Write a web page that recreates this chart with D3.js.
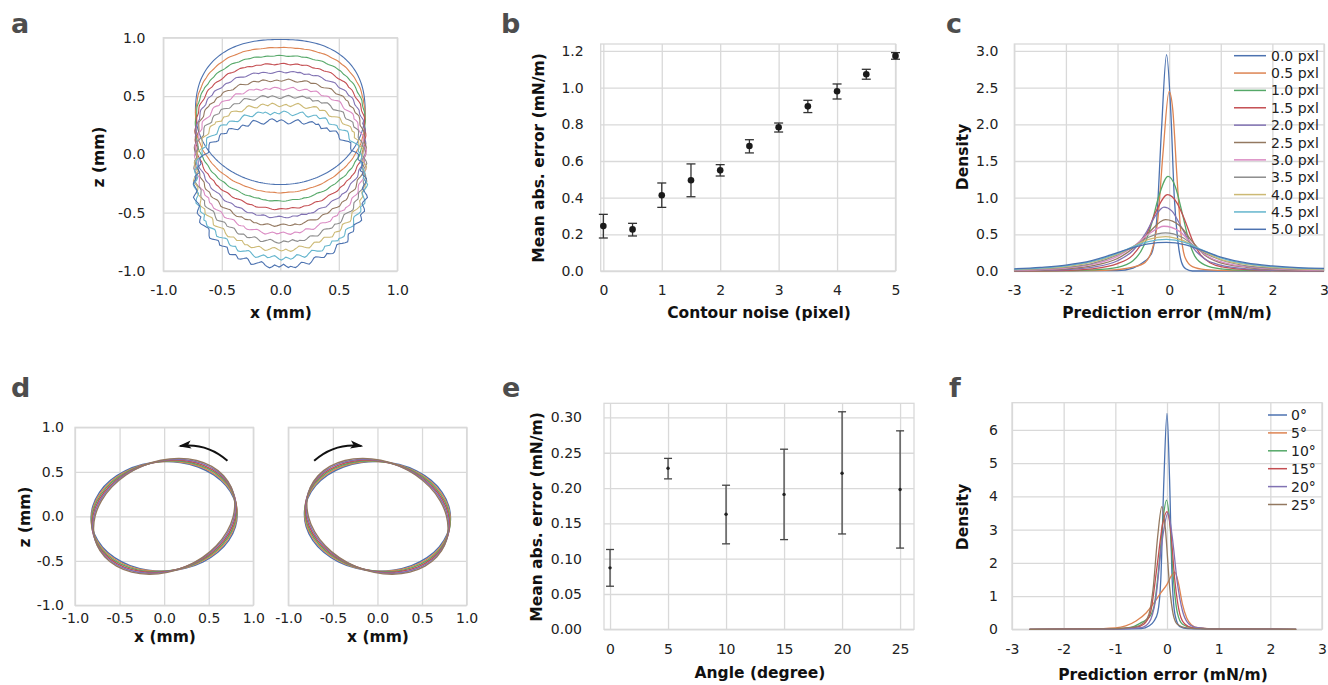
<!DOCTYPE html>
<html>
<head>
<meta charset="utf-8">
<script src="https://cdn.jsdelivr.net/npm/d3@7"></script>
<style>
  body { margin: 0; background: #fff; }
  text { font-family: "DejaVu Sans", Verdana, sans-serif; }
</style>
</head>
<body>
<svg id="fig" width="1328" height="685"></svg>
<script>
// ---------- data ----------
const noiseLevels = [0, 0.5, 1, 1.5, 2, 2.5, 3, 3.5, 4, 4.5, 5];

// panel a: drop contour (relative to its centre) and centre heights per noise level
const contourA = [[0.725,0],[0.704,0.202],[0.643,0.349],[0.543,0.466],[0.407,0.552],[0.235,0.604],[0,0.622],
  [-0.235,0.604],[-0.407,0.552],[-0.543,0.466],[-0.643,0.349],[-0.704,0.202],[-0.725,0],
  [-0.700,-0.161],[-0.628,-0.311],[-0.513,-0.440],[-0.363,-0.539],[-0.188,-0.601],[0,-0.622],
  [0.188,-0.601],[0.363,-0.539],[0.513,-0.440],[0.628,-0.311],[0.700,-0.161]];
const centersA = [0.363, 0.293, 0.223, 0.153, 0.083, 0.013, -0.057, -0.127, -0.197, -0.267, -0.337];
// hand-read wiggle pattern of the noisy contours
const jitter = [0.2,0.6,0.9,0.5,-0.1,-0.6,-0.3,0.3,0.8,0.4,-0.2,-0.8,-1.0,-0.5,0.1,0.5,0.2,-0.3,0.4,0.9,
  0.7,0.1,-0.4,-0.9,-0.6,0.0,0.6,1.0,0.5,-0.2,-0.7,-0.4,0.2,-0.1,-0.6,-0.9,-0.3,0.4,0.8,0.3,-0.3,0.1,
  0.7,0.4,-0.2,-0.8,-0.5,0.2,0.9,0.6,0.0,-0.5,-1.0,-0.6,0.1,0.5,0.8,0.3,-0.4,-0.1,0.3,-0.2,-0.7,0.0,0.6];

// panel b
const maeB = [0.245, 0.227, 0.413, 0.495, 0.549, 0.682, 0.784, 0.898, 0.980, 1.073, 1.173];
const hiB  = [0.309, 0.260, 0.480, 0.584, 0.580, 0.716, 0.807, 0.931, 1.020, 1.100, 1.191];
const loB  = [0.180, 0.191, 0.347, 0.405, 0.518, 0.644, 0.758, 0.864, 0.938, 1.046, 1.155];

// panel c: density curves per noise level
const c00 = [[-3,0],[-1,0.005],[-0.7,0.04],[-0.5,0.12],[-0.4,0.18],[-0.32,0.28],[-0.24,0.7],[-0.15,1.9],[-0.05,2.95],[0.03,2.2],[0.1,1.0],[0.17,0.4],[0.24,0.12],[0.32,0.03],[0.45,0],[3,0]];
const c05 = [[-3,0],[-1.5,0.005],[-1,0.02],[-0.8,0.04],[-0.5,0.1],[-0.35,0.25],[-0.22,0.7],[-0.12,1.6],[0,2.45],[0.07,2.2],[0.15,1.3],[0.23,0.5],[0.31,0.18],[0.45,0.06],[0.7,0.02],[1.2,0.005],[3,0]];
const c10 = [[-3,0.002],[-2,0.005],[-1.5,0.015],[-1,0.05],[-0.7,0.14],[-0.5,0.33],[-0.35,0.62],[-0.2,1.02],[-0.02,1.29],[0.12,1.15],[0.25,0.8],[0.38,0.42],[0.5,0.2],[0.7,0.08],[1,0.03],[1.5,0.01],[3,0.001]];
const c15 = [[-3,0.003],[-2,0.01],[-1.5,0.03],[-1,0.1],[-0.7,0.22],[-0.45,0.48],[-0.25,0.82],[-0.03,1.04],[0.15,0.93],[0.3,0.7],[0.45,0.42],[0.6,0.23],[0.8,0.11],[1,0.06],[1.5,0.02],[2,0.008],[3,0.002]];
const c20 = [[-3,0.005],[-2.5,0.01],[-2,0.02],[-1.5,0.05],[-1,0.14],[-0.7,0.28],[-0.45,0.52],[-0.25,0.77],[-0.1,0.87],[0.05,0.82],[0.25,0.58],[0.45,0.33],[0.7,0.16],[1,0.08],[1.5,0.03],[2,0.01],[3,0.003]];
const c25 = [[-3,0.008],[-2.5,0.015],[-2,0.03],[-1.5,0.07],[-1,0.17],[-0.7,0.31],[-0.4,0.52],[-0.07,0.70],[0.2,0.62],[0.45,0.4],[0.7,0.21],[1,0.11],[1.5,0.05],[2,0.02],[2.5,0.01],[3,0.005]];
const c30 = [[-3,0.01],[-2.5,0.02],[-2,0.04],[-1.5,0.09],[-1,0.2],[-0.7,0.33],[-0.4,0.5],[-0.1,0.61],[0.2,0.54],[0.5,0.33],[0.8,0.18],[1.2,0.09],[1.5,0.06],[2,0.03],[2.5,0.015],[3,0.01]];
const c35 = [[-3,0.015],[-2.5,0.03],[-2,0.05],[-1.5,0.1],[-1,0.22],[-0.7,0.33],[-0.4,0.46],[-0.07,0.52],[0.25,0.46],[0.6,0.28],[1,0.15],[1.5,0.07],[2,0.04],[2.5,0.025],[3,0.015]];
const c40 = [[-3,0.02],[-2.5,0.035],[-2,0.06],[-1.5,0.12],[-1,0.23],[-0.7,0.33],[-0.4,0.43],[-0.07,0.47],[0.25,0.42],[0.6,0.29],[1,0.16],[1.5,0.09],[2,0.05],[2.5,0.03],[3,0.02]];
const c45 = [[-3,0.025],[-2.5,0.04],[-2,0.07],[-1.5,0.13],[-1,0.24],[-0.7,0.33],[-0.4,0.4],[-0.05,0.43],[0.3,0.39],[0.6,0.3],[1,0.18],[1.5,0.1],[2,0.06],[2.5,0.04],[3,0.03]];
const c50 = [[-3,0.03],[-2.5,0.05],[-2,0.08],[-1.5,0.14],[-1,0.25],[-0.7,0.32],[-0.4,0.37],[-0.05,0.39],[0.3,0.36],[0.6,0.29],[1,0.19],[1.5,0.11],[2,0.07],[2.5,0.045],[3,0.035]];
const curvesC = [c00, c05, c10, c15, c20, c25, c30, c35, c40, c45, c50];

// panel d: tilted drop contour and tilt angles (degrees) of the stacked outlines
const contourD = [[0.82,0],[0.792,0.159],[0.710,0.3075],[0.580,0.435],[0.41,0.533],[0.212,0.594],[0,0.615],
  [-0.212,0.594],[-0.41,0.533],[-0.580,0.435],[-0.710,0.3075],[-0.792,0.159],[-0.82,0],
  [-0.792,-0.159],[-0.710,-0.3075],[-0.580,-0.435],[-0.41,-0.533],[-0.212,-0.594],[0,-0.615],
  [0.212,-0.594],[0.41,-0.533],[0.580,-0.435],[0.710,-0.3075],[0.792,-0.159]];
const tiltD = [3, 7, 11, 15, 19, 23];

// panel e
const anglesE = [0, 5, 10, 15, 20, 25];
const maeE = [0.087, 0.228, 0.163, 0.191, 0.221, 0.198];
const hiE  = [0.113, 0.242, 0.204, 0.255, 0.308, 0.281];
const loE  = [0.061, 0.213, 0.121, 0.127, 0.135, 0.115];

// panel f: density curves per angle
const f00 = [[-2.66,0],[-1,0.005],[-0.5,0.02],[-0.35,0.1],[-0.25,0.25],[-0.18,0.5],[-0.12,1.5],[-0.06,4.5],[0,6.5],[0.05,4.5],[0.1,1.5],[0.16,0.4],[0.25,0.08],[0.4,0.02],[1,0.005],[2.5,0]];
const f05 = [[-2.66,0],[-1.5,0.01],[-1,0.04],[-0.8,0.1],[-0.6,0.25],[-0.4,0.5],[-0.25,0.8],[-0.12,1.1],[0,1.35],[0.08,1.6],[0.15,1.72],[0.22,1.4],[0.3,0.75],[0.38,0.35],[0.47,0.14],[0.6,0.05],[1,0.01],[2.5,0]];
const f10 = [[-2.66,0],[-1,0.02],[-0.7,0.06],[-0.5,0.2],[-0.35,0.35],[-0.25,0.7],[-0.15,2.0],[-0.07,3.4],[-0.01,3.89],[0.05,3.3],[0.12,1.6],[0.2,0.5],[0.3,0.15],[0.5,0.04],[1,0.01],[2.5,0]];
const f15 = [[-2.66,0],[-1,0.02],[-0.6,0.06],[-0.45,0.15],[-0.32,0.5],[-0.2,1.8],[-0.08,3.2],[0,3.54],[0.07,3.0],[0.15,1.5],[0.25,0.45],[0.35,0.15],[0.5,0.04],[1,0.01],[2.5,0]];
const f20 = [[-2.66,0],[-1,0.01],[-0.5,0.05],[-0.35,0.2],[-0.22,0.9],[-0.1,2.6],[0.02,3.5],[0.1,2.8],[0.2,1.4],[0.3,0.55],[0.4,0.2],[0.55,0.06],[1,0.01],[2.5,0]];
const f25 = [[-2.66,0],[-1.5,0.01],[-1,0.02],[-0.6,0.08],[-0.45,0.2],[-0.35,0.45],[-0.27,1.2],[-0.18,2.8],[-0.1,3.69],[-0.03,3.0],[0.05,1.3],[0.12,0.45],[0.2,0.15],[0.35,0.05],[0.7,0.01],[2.5,0]];
const curvesF = [f00, f05, f10, f15, f20, f25];
const legendF = ['0°', '5°', '10°', '15°', '20°', '25°'];

// tick values
const ticksMM = [-1, -0.5, 0, 0.5, 1];
const ticksNoise = [0, 1, 2, 3, 4, 5];
const ticksMaeB = [0, 0.2, 0.4, 0.6, 0.8, 1.0, 1.2];
const ticksErr = [-3, -2, -1, 0, 1, 2, 3];
const ticksDensC = [0, 0.5, 1, 1.5, 2, 2.5, 3];
const ticksAngle = [0, 5, 10, 15, 20, 25];
const ticksMaeE = [0, 0.05, 0.10, 0.15, 0.20, 0.25, 0.30];
const ticksDensF = [0, 1, 2, 3, 4, 5, 6];

// ---------- drawing ----------
const palette = ['#4C72B0','#DD8452','#55A868','#C44E52','#8172B3','#937860','#DA8BC3','#8C8C8C','#CCB974','#64B5CD'];
const colour = i => palette[i % palette.length];
const GRID = '#d9d9d9';
const fmt0 = d => String(d);
const fmt1 = d => d.toFixed(1);
const fmt2 = d => d.toFixed(2);
const none = () => '';

const svg = d3.select('#fig');
svg.append('rect').attr('width', 1328).attr('height', 685).attr('fill', '#fff');

const defs = svg.append('defs');
defs.append('marker')
  .attr('id', 'ah')
  .attr('viewBox', '0 -5 13 10')
  .attr('refX', 11).attr('refY', 0)
  .attr('markerWidth', 13).attr('markerHeight', 10)
  .attr('markerUnits', 'userSpaceOnUse')
  .attr('orient', 'auto')
  .append('path')
    .attr('d', 'M0,-4L13,0L0,4L3,0Z')
    .attr('fill', '#111');

function styleAxis(sel) {
  sel.attr('font-family', null).attr('font-size', 14);
  sel.select('.domain').remove();
  sel.selectAll('.tick line').attr('stroke', GRID).attr('stroke-width', 1.3);
  sel.selectAll('.tick text').attr('fill', '#222');
}

function panel(cfg) {
  const x = d3.scaleLinear().domain(cfg.xd).range([cfg.l, cfg.r]);
  const y = d3.scaleLinear().domain(cfg.yd).range([cfg.b, cfg.t]);
  const g = svg.append('g');
  g.append('g')
    .attr('transform', `translate(0,${cfg.b})`)
    .call(d3.axisBottom(x).tickValues(cfg.xt).tickFormat(cfg.xf)
      .tickSizeInner(-(cfg.b - cfg.t)).tickSizeOuter(0).tickPadding(cfg.xp))
    .call(styleAxis);
  g.append('g')
    .attr('transform', `translate(${cfg.l},0)`)
    .call(d3.axisLeft(y).tickValues(cfg.yt).tickFormat(cfg.yf)
      .tickSizeInner(-(cfg.r - cfg.l)).tickSizeOuter(0).tickPadding(cfg.yp))
    .call(styleAxis);
  g.append('rect')
    .attr('x', cfg.l).attr('y', cfg.t)
    .attr('width', cfg.r - cfg.l).attr('height', cfg.b - cfg.t)
    .attr('fill', 'none').attr('stroke', GRID).attr('stroke-width', 1.3);
  return { x, y, g: g.append('g') };
}

function title(txt, x, y, rotate) {
  svg.append('text')
    .attr('transform', `translate(${x},${y})` + (rotate ? ' rotate(-90)' : ''))
    .attr('text-anchor', 'middle')
    .attr('dominant-baseline', 'central')
    .attr('font-weight', 'bold')
    .attr('font-size', 15.5)
    .attr('fill', '#111')
    .text(txt);
}

function letter(txt, x, y) {
  svg.append('text')
    .attr('x', x).attr('y', y)
    .attr('font-weight', 'bold')
    .attr('font-size', 27)
    .attr('fill', '#4d4d4d')
    .text(txt);
}

// ----- panel a -----
const A = panel({ l: 163.3, r: 397.3, t: 37.7, b: 271, xd: [-1, 1], yd: [-1, 1],
  xt: ticksMM, yt: ticksMM, xf: fmt1, yf: fmt1, xp: 14, yp: 18 });
const smoothClosed = d3.line().curve(d3.curveCatmullRomClosed.alpha(0.5));
centersA.forEach((c, i) => {
  const pix = contourA.map(([px, pz]) => [A.x(px), A.y(pz + c)]);
  const tmp = A.g.append('path').attr('d', smoothClosed(pix)).attr('fill', 'none');
  const node = tmp.node();
  const L = node.getTotalLength();
  const cx = A.x(0), cy = A.y(c);
  const amp = noiseLevels[i] * 0.55;
  const N = 220;
  const pts = d3.range(N).map(k => {
    const p = node.getPointAtLength(L * k / N);
    const dx = p.x - cx, dy = p.y - cy;
    const r = Math.hypot(dx, dy) || 1;
    const j = jitter[(k + i * 23) % jitter.length] * amp;
    return [p.x + dx / r * j, p.y + dy / r * j];
  });
  tmp.remove();
  A.g.append('path')
    .attr('d', d3.line().curve(d3.curveLinearClosed)(pts))
    .attr('fill', 'none')
    .attr('stroke', colour(i))
    .attr('stroke-width', 1.1);
});
title('x (mm)', 281, 313);
title('z (mm)', 99, 157, true);
letter('a', 11, 33);

// ----- panel b -----
const B = panel({ l: 600.7, r: 895.5, t: 44, b: 271, xd: [-0.045, 5], yd: [0, 1.238],
  xt: ticksNoise, yt: ticksMaeB, xf: fmt0, yf: fmt1, xp: 14, yp: 17 });
const bars = B.g.selectAll('.bar').data(noiseLevels).enter().append('g');
bars.append('line')
  .attr('x1', d => B.x(d)).attr('x2', d => B.x(d))
  .attr('y1', (d, i) => B.y(loB[i])).attr('y2', (d, i) => B.y(hiB[i]));
bars.append('line')
  .attr('x1', d => B.x(d) - 4.5).attr('x2', d => B.x(d) + 4.5)
  .attr('y1', (d, i) => B.y(loB[i])).attr('y2', (d, i) => B.y(loB[i]));
bars.append('line')
  .attr('x1', d => B.x(d) - 4.5).attr('x2', d => B.x(d) + 4.5)
  .attr('y1', (d, i) => B.y(hiB[i])).attr('y2', (d, i) => B.y(hiB[i]));
bars.selectAll('line').attr('stroke', '#333').attr('stroke-width', 1.3);
bars.append('circle')
  .attr('cx', d => B.x(d)).attr('cy', (d, i) => B.y(maeB[i]))
  .attr('r', 3.3).attr('fill', '#1a1a1a');
title('Contour noise (pixel)', 759, 313);
title('Mean abs. error (mN/m)', 539, 158, true);
letter('b', 501, 33);

// ----- panel c -----
const C = panel({ l: 1014.3, r: 1324, t: 44, b: 271, xd: [-3, 3], yd: [0, 3.095],
  xt: ticksErr, yt: ticksDensC, xf: fmt0, yf: fmt1, xp: 14, yp: 16 });
const lineC = d3.line().x(d => C.x(d[0])).y(d => C.y(d[1])).curve(d3.curveMonotoneX);
curvesC.forEach((pts, i) => {
  C.g.append('path').attr('d', lineC(pts))
    .attr('fill', 'none').attr('stroke', colour(i)).attr('stroke-width', 1.3);
});
const legC = C.g.append('g');
noiseLevels.forEach((n, i) => {
  const yy = 55.7 + i * 17.36;
  legC.append('line').attr('x1', 1234).attr('x2', 1266).attr('y1', yy).attr('y2', yy)
    .attr('stroke', colour(i)).attr('stroke-width', 1.5);
  legC.append('text').attr('x', 1271).attr('y', yy).attr('dominant-baseline', 'central')
    .attr('font-size', 14).attr('fill', '#222').text(n.toFixed(1) + ' pxl');
});
title('Prediction error (mN/m)', 1167, 313);
title('Density', 963, 157, true);
letter('c', 946, 33);

// ----- panel d -----
const D1 = panel({ l: 75, r: 253.3, t: 427.3, b: 605.3, xd: [-1, 1], yd: [-1, 1],
  xt: ticksMM, yt: ticksMM, xf: fmt1, yf: fmt1, xp: 8, yp: 11 });
const D2 = panel({ l: 288.3, r: 466.6, t: 427.3, b: 605.3, xd: [-1, 1], yd: [-1, 1],
  xt: ticksMM, yt: ticksMM, xf: fmt1, yf: none, xp: 8, yp: 11 });
[[D1, 1], [D2, -1]].forEach(([P, sgn]) => {
  tiltD.forEach((deg, i) => {
    const t = sgn * deg * Math.PI / 180;
    const pix = contourD.map(([px, pz]) => [
      P.x(px * Math.cos(t) - pz * Math.sin(t)),
      P.y(px * Math.sin(t) + pz * Math.cos(t))
    ]);
    P.g.append('path').attr('d', smoothClosed(pix))
      .attr('fill', 'none').attr('stroke', colour(i)).attr('stroke-width', 1.4);
  });
  const arc = d3.path();
  arc.moveTo(P.x(sgn * 0.71), P.y(0.625));
  arc.quadraticCurveTo(P.x(sgn * 0.475), P.y(0.83), P.x(sgn * 0.18), P.y(0.79));
  P.g.append('path').attr('d', arc.toString())
    .attr('fill', 'none').attr('stroke', '#111').attr('stroke-width', 2)
    .attr('marker-end', 'url(#ah)');
});
title('x (mm)', 165, 637);
title('x (mm)', 378, 637);
title('z (mm)', 25, 517, true);
letter('d', 11, 397);

// ----- panel e -----
const E = panel({ l: 604, r: 914, t: 403.3, b: 629.3, xd: [-0.52, 26.2], yd: [0, 0.32],
  xt: ticksAngle, yt: ticksMaeE, xf: fmt0, yf: fmt2, xp: 15, yp: 22 });
const barsE = E.g.selectAll('.bar').data(anglesE).enter().append('g');
barsE.append('line')
  .attr('x1', d => E.x(d)).attr('x2', d => E.x(d))
  .attr('y1', (d, i) => E.y(loE[i])).attr('y2', (d, i) => E.y(hiE[i]));
barsE.append('line')
  .attr('x1', d => E.x(d) - 4).attr('x2', d => E.x(d) + 4)
  .attr('y1', (d, i) => E.y(loE[i])).attr('y2', (d, i) => E.y(loE[i]));
barsE.append('line')
  .attr('x1', d => E.x(d) - 4).attr('x2', d => E.x(d) + 4)
  .attr('y1', (d, i) => E.y(hiE[i])).attr('y2', (d, i) => E.y(hiE[i]));
barsE.selectAll('line').attr('stroke', '#444').attr('stroke-width', 1.3);
barsE.append('circle')
  .attr('cx', d => E.x(d)).attr('cy', (d, i) => E.y(maeE[i]))
  .attr('r', 1.7).attr('fill', '#222');
title('Angle (degree)', 760, 673);
title('Mean abs. error (mN/m)', 537, 517, true);
letter('e', 502, 397);

// ----- panel f -----
const F = panel({ l: 1012, r: 1322, t: 402.7, b: 629.3, xd: [-3, 3], yd: [0, 6.82],
  xt: ticksErr, yt: ticksDensF, xf: fmt0, yf: fmt0, xp: 15, yp: 14 });
const lineF = d3.line().x(d => F.x(d[0])).y(d => F.y(d[1])).curve(d3.curveMonotoneX);
curvesF.forEach((pts, i) => {
  F.g.append('path').attr('d', lineF(pts))
    .attr('fill', 'none').attr('stroke', colour(i)).attr('stroke-width', 1.3);
});
legendF.forEach((lab, i) => {
  const yy = 415 + i * 17.9;
  F.g.append('line').attr('x1', 1268).attr('x2', 1287).attr('y1', yy).attr('y2', yy)
    .attr('stroke', colour(i)).attr('stroke-width', 1.5);
  F.g.append('text').attr('x', 1291).attr('y', yy).attr('dominant-baseline', 'central')
    .attr('font-size', 14).attr('fill', '#222').text(lab);
});
title('Prediction error (mN/m)', 1163, 675);
title('Density', 963, 517, true);
letter('f', 949, 397);
</script>
</body>
</html>
